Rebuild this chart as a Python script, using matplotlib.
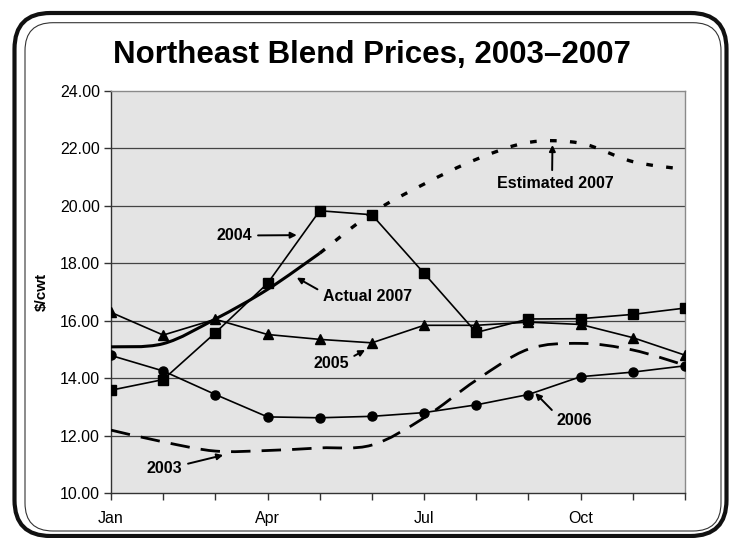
import numpy as np
import matplotlib
matplotlib.use('Agg')
import matplotlib.pyplot as plt
from matplotlib.path import Path
from matplotlib.patches import PathPatch, FancyBboxPatch
from matplotlib.transforms import IdentityTransform

plt.rcParams['font.family'] = ['Liberation Sans', 'DejaVu Sans']

# ============================
# Datos ($/cwt)
# ============================
months = ['Jan', 'Feb', 'Mar', 'Apr', 'May', 'Jun',
          'Jul', 'Aug', 'Sep', 'Oct', 'Nov', 'Dec']
shown_months = ['Jan', 'Apr', 'Jul', 'Oct']

p2003 = [12.19, 11.78, 11.46, 11.48, 11.57, 11.67, 12.62, 13.93, 15.01, 15.21, 14.98, 14.45]
p2004 = [13.58, 13.95, 15.58, 17.30, 19.83, 19.69, 17.65, 15.59, 16.06, 16.07, 16.22, 16.44]
p2005 = [16.29, 15.50, 16.05, 15.52, 15.35, 15.23, 15.84, 15.84, 15.95, 15.87, 15.41, 14.80]
p2006 = [14.79, 14.25, 13.43, 12.65, 12.62, 12.67, 12.80, 13.07, 13.43, 14.05, 14.21, 14.43]
actual_2007 = [15.09, 15.20, 16.06, 17.09, 18.35]
estimated_2007 = [18.35, 19.75, 20.76, 21.62, 22.21, 22.18, 21.54, 21.27]  # May..Dec

x_all = np.arange(len(months))


def smooth_path(xs, ys):
    # curva suavizada tipo Excel (Bezier cúbica entre puntos)
    pts = np.column_stack([xs, ys]).astype(float)
    n = len(pts)
    verts = [pts[0]]
    codes = [Path.MOVETO]
    for i in range(n - 1):
        p0 = pts[i - 1] if i > 0 else pts[i]
        p1 = pts[i]
        p2 = pts[i + 1]
        p3 = pts[i + 2] if i + 2 < n else pts[i + 1]
        c1 = p1 + (p2 - p0) / 6.0
        c2 = p2 - (p3 - p1) / 6.0
        verts += [c1, c2, p2]
        codes += [Path.CURVE4] * 3
    return Path(verts, codes)


fig = plt.figure(figsize=(7.38, 5.38), dpi=100)
ax = fig.add_axes([111 / 738, 1 - 493 / 538, 574 / 738, 402 / 538])
ax.set_facecolor('#e4e4e4')

# líneas de cuadrícula
for yv in [12, 14, 16, 18, 20, 22]:
    ax.axhline(yv, color='#444444', linewidth=0.9, zorder=1)

# 2003 (discontinua suavizada)
ax.add_patch(PathPatch(smooth_path(x_all, p2003), fill=False, edgecolor='black',
                       linewidth=2.0, linestyle=(0, (7, 4)), zorder=3))
# 2007 real (gruesa suavizada)
ax.add_patch(PathPatch(smooth_path(x_all[:5], actual_2007), fill=False, edgecolor='black',
                       linewidth=2.2, zorder=3, capstyle='butt'))
# 2007 estimado (punteada suavizada)
ax.add_patch(PathPatch(smooth_path(x_all[4:], estimated_2007), fill=False, edgecolor='black',
                       linewidth=2.4, linestyle=(0, (2, 4)), zorder=3))

ax.plot(x_all, p2004, color='black', linewidth=1.2, marker='s', markersize=6.5, zorder=4)
ax.plot(x_all, p2005, color='black', linewidth=1.2, marker='^', markersize=7, zorder=4)
ax.plot(x_all, p2006, color='black', linewidth=1.2, marker='o', markersize=6.5, zorder=4)

# Ejes
ax.set_xlim(0, 11)
ax.set_ylim(10, 24)
ax.set_yticks(np.arange(10, 25, 2))
ax.set_yticklabels(['%.2f' % v for v in np.arange(10, 25, 2)])
ax.set_xticks(x_all)
ax.set_xticklabels([m if m in shown_months else '' for m in months])
ax.tick_params(axis='both', direction='out', length=5, width=1, color='#333333',
               labelsize=11.5, labelcolor='black')
ax.tick_params(axis='x', pad=8)
ax.tick_params(axis='y', pad=3)
for s in ['top', 'right']:
    ax.spines[s].set_color('#8a8a8a')
for s in ['left', 'bottom']:
    ax.spines[s].set_color('#333333')
for s in ax.spines.values():
    s.set_linewidth(1.0)

ax.set_ylabel('$/cwt', fontsize=11, fontweight='bold')
ax.yaxis.set_label_coords(-0.108, 0.5)

# Anotaciones
arr = dict(arrowstyle='-|>', color='black', lw=1.4, mutation_scale=9, shrinkA=2, shrinkB=0)
lab = dict(fontsize=11.5, fontweight='bold', ha='center', va='center')
ax.annotate('2004', xy=(3.56, 18.98), xytext=(2.37, 18.97),
            arrowprops=dict(arr, relpos=(1, 0.5)), **lab)
ax.annotate('Actual 2007', xy=(3.56, 17.50), xytext=(4.91, 16.86),
            arrowprops=dict(arr, relpos=(0, 0.75)), **lab)
ax.annotate('2005', xy=(4.87, 14.98), xytext=(4.22, 14.52),
            arrowprops=dict(arr, relpos=(1, 0.8)), **lab)
ax.annotate('2003', xy=(2.15, 11.32), xytext=(1.03, 10.87),
            arrowprops=dict(arr, relpos=(1, 0.7)), **lab)
ax.annotate('2006', xy=(8.13, 13.48), xytext=(8.88, 12.54),
            arrowprops=dict(arr, relpos=(0, 0.85)), **lab)
ax.annotate('Estimated 2007', xy=(8.46, 22.12), xytext=(8.52, 20.79),
            arrowprops=dict(arr, relpos=(0.47, 1)), **lab)

# Título
fig.text(372 / 738, (538 - 63.3) / 538, 'Northeast Blend Prices, 2003\u20132007',
         ha='center', va='baseline', fontsize=22.5, fontweight='bold')

# Marco redondeado doble (en píxeles)
H = 538
outer = FancyBboxPatch((14.5, H - 536), 726.5 - 14.5, 536 - 13,
                       boxstyle='round,pad=0,rounding_size=36', fill=False,
                       edgecolor='#111111', linewidth=3.0, transform=IdentityTransform())
inner = FancyBboxPatch((25, H - 531), 721 - 25, 531 - 22.7,
                       boxstyle='round,pad=0,rounding_size=28', fill=False,
                       edgecolor='#333333', linewidth=0.8, transform=IdentityTransform())
fig.add_artist(outer)
fig.add_artist(inner)

fig.savefig('out.png', dpi=100)
